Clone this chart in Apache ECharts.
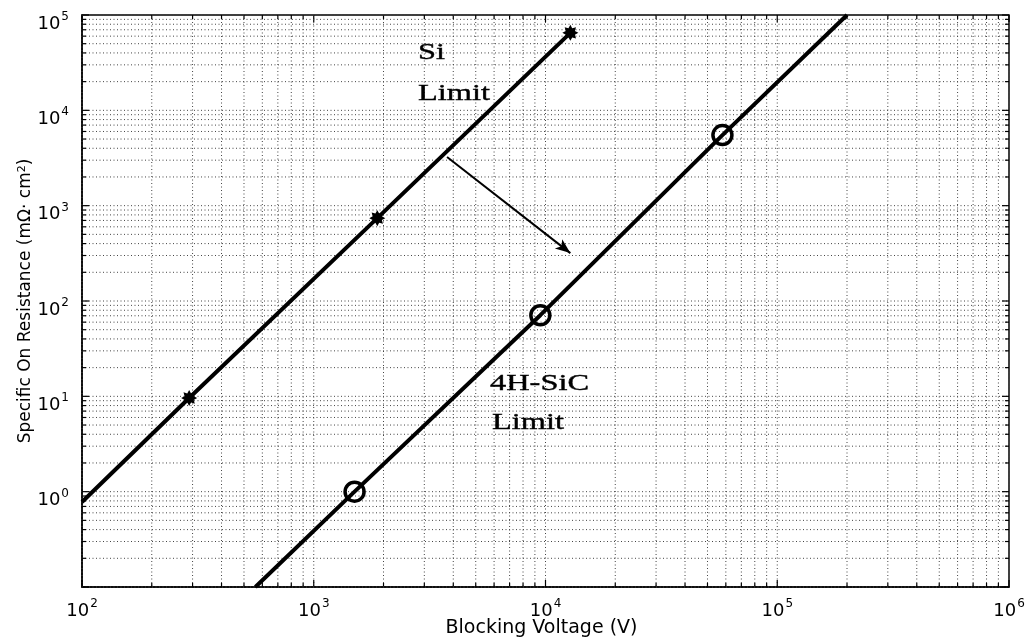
<!DOCTYPE html>
<html>
<head>
<meta charset="utf-8">
<script src="https://cdn.jsdelivr.net/npm/echarts@6/dist/echarts.min.js"></script>
<style>
  html, body { margin: 0; padding: 0; background: #fff; }
  #chart { width: 1027px; height: 642px; }
</style>
</head>
<body>
<div id="chart"></div>
<script>
// ---- data ----
const siLimit = [[100, 0.78], [290, 9.6], [1880, 740], [12800, 65000]];
const siMarked = [false, true, true, true];
const sicLimit = [[560, 0.1], [1500, 1.0], [9500, 71], [58000, 5500], [200000, 100000]];
const sicMarked = [false, true, true, true, false];
const arrowStart = [3760, 3240];
const arrowEnd = [12800, 318];
const xRange = [100, 1e6];
const yRange = [0.1, 1e5];
const xMajorTicks = [1e2, 1e3, 1e4, 1e5, 1e6];
const yMajorTicks = [1e-1, 1e0, 1e1, 1e2, 1e3, 1e4, 1e5];
const minorMultipliers = [2, 3, 4, 5, 6, 7, 8, 9];
const xTitle = 'Blocking Voltage (V)';
const yTitle = 'Specific On Resistance (mΩ· cm{sup|2})';
const annotations = [
  { text: 'Si', x: 418, y: 41 },
  { text: 'Limit', x: 418, y: 82 },
  { text: '4H-SiC', x: 490, y: 372 },
  { text: 'Limit', x: 492, y: 411 }
];

function withMinors(majors) {
  const out = [];
  majors.forEach((m, i) => {
    out.push([m, 1]);
    if (i < majors.length - 1) minorMultipliers.forEach(k => out.push([m * k, 0]));
  });
  return out;
}
const xTickData = withMinors(xMajorTicks).map(d => [d[0], 1, d[1]]);
const yTickData = withMinors(yMajorTicks).map(d => [100, d[0], d[1]]);

// 8-point star path for the Si markers
let starPath = 'path://';
for (let k = 0; k < 16; k++) {
  const r = (k % 2 === 0) ? 1 : 0.62;
  const a = k * Math.PI / 8;
  starPath += (k === 0 ? 'M' : 'L') + (r * Math.cos(a)).toFixed(3) + ' ' + (r * Math.sin(a)).toFixed(3) + ' ';
}
starPath += 'Z';

const FONT = 'DejaVu Sans';
const expFmt = v => {
  if (v < 1) return '';
  return '{base|10}{sup|' + Math.round(Math.log10(v)) + '}';
};
const labelRich = {
  base: { fontSize: 18, lineHeight: 18, verticalAlign: 'bottom', fontFamily: FONT, color: '#000' },
  sup: { fontSize: 12, lineHeight: 12, verticalAlign: 'bottom', padding: [0, 0, 10, 1], fontFamily: FONT, color: '#000' }
};

const gridStroke = '#444';

function xLines(params, api) {
  const v = api.value(0), major = api.value(2);
  const x = api.coord([v, 1])[0];
  const cs = params.coordSys;
  const top = cs.y, bottom = cs.y + cs.height;
  const len = major ? 7 : 4;
  return { type: 'group', children: [
    { type: 'line', shape: { x1: x, y1: top, x2: x, y2: bottom }, style: { stroke: gridStroke, lineWidth: 1, lineDash: [1, 2.5] } },
    { type: 'line', shape: { x1: x, y1: bottom, x2: x, y2: bottom - len }, style: { stroke: '#000', lineWidth: 1.2 } },
    { type: 'line', shape: { x1: x, y1: top, x2: x, y2: top + len }, style: { stroke: '#000', lineWidth: 1.2 } }
  ] };
}
function yLines(params, api) {
  const v = api.value(1), major = api.value(2);
  const y = api.coord([1000, v])[1];
  const cs = params.coordSys;
  const left = cs.x, right = cs.x + cs.width;
  const len = major ? 7 : 4;
  return { type: 'group', children: [
    { type: 'line', shape: { x1: left, y1: y, x2: right, y2: y }, style: { stroke: gridStroke, lineWidth: 1, lineDash: [1, 2.5] } },
    { type: 'line', shape: { x1: left, y1: y, x2: left + len, y2: y }, style: { stroke: '#000', lineWidth: 1.2 } },
    { type: 'line', shape: { x1: right, y1: y, x2: right - len, y2: y }, style: { stroke: '#000', lineWidth: 1.2 } }
  ] };
}

const chart = echarts.init(document.getElementById('chart'), null, { renderer: 'canvas' });
chart.setOption({
  animation: false,
  backgroundColor: '#fff',
  grid: { left: 82, right: 18, top: 15, bottom: 55, outerBoundsMode: 'none', containLabel: false,
    show: true, borderColor: '#000', borderWidth: 1.5, backgroundColor: 'transparent' },
  xAxis: {
    type: 'log', logBase: 10, min: xRange[0], max: xRange[1],
    axisLine: { show: true, lineStyle: { color: '#000', width: 1.5 } },
    axisTick: { show: false }, splitLine: { show: false },
    axisLabel: { formatter: expFmt, rich: labelRich, color: '#000', fontFamily: FONT, margin: 15 },
    name: xTitle, nameLocation: 'middle', nameGap: 32, nameMoveOverlap: false,
    nameTextStyle: { fontSize: 19, color: '#000', fontFamily: FONT, padding: [0, 8, 0, 0] }
  },
  yAxis: {
    type: 'log', logBase: 10, min: yRange[0], max: yRange[1],
    axisLine: { show: true, lineStyle: { color: '#000', width: 1.5 } },
    axisTick: { show: false }, splitLine: { show: false },
    axisLabel: { formatter: expFmt, rich: labelRich, color: '#000', fontFamily: FONT, margin: 13, padding: [18, 0, 0, 0] },
    name: yTitle, nameLocation: 'middle', nameGap: 48, nameMoveOverlap: false,
    nameTextStyle: { fontSize: 17, color: '#000', fontFamily: FONT,
      rich: { sup: { fontSize: 11, verticalAlign: 'top', lineHeight: 10, padding: [0, 0, 8, 0], fontFamily: FONT, color: '#000' } } }
  },
  series: [
    { type: 'custom', silent: true, z: 1, renderItem: xLines, data: xTickData, clip: false },
    { type: 'custom', silent: true, z: 1, renderItem: yLines, data: yTickData, clip: false },
    {
      type: 'line', z: 5, silent: true,
      data: siLimit.map((p, i) => ({ value: p, symbol: siMarked[i] ? starPath : 'none' })),
      symbolSize: 16,
      itemStyle: { color: '#000' },
      lineStyle: { color: '#000', width: 4 }
    },
    {
      type: 'line', z: 5, silent: true,
      data: sicLimit.map((p, i) => ({ value: p, symbol: sicMarked[i] ? 'circle' : 'none' })),
      symbolSize: 19,
      itemStyle: { color: 'rgba(255,255,255,0)', borderColor: '#000', borderWidth: 3.5 },
      lineStyle: { color: '#000', width: 4 }
    },
    {
      type: 'line', z: 6, silent: true, data: [],
      markLine: {
        silent: true, animation: false,
        symbol: ['none', 'arrow'], symbolSize: [9, 15],
        label: { show: false },
        lineStyle: { color: '#000', width: 2, type: 'solid' },
        data: [[{ coord: arrowStart }, { coord: arrowEnd }]]
      }
    }
  ],
  graphic: annotations.map(a => ({
    type: 'text', x: a.x, y: a.y, scaleX: 1.35, z: 10,
    style: { text: a.text, fill: '#000', font: '24px "Liberation Serif"', textVerticalAlign: 'top', textAlign: 'left', stroke: '#000', lineWidth: 0.4 }
  }))
});
</script>
</body>
</html>
